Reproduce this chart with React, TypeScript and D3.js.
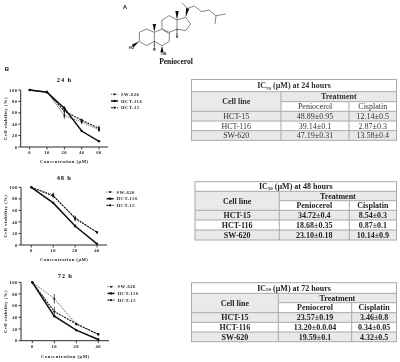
import React from 'react';
import * as d3 from 'd3';

const SERIF = '"Liberation Serif", serif';
const SANS = '"Liberation Sans", sans-serif';

// viability readings (%), one array per cell line
const doses24 = ['0', '10', '20', '40', '60'];
const sw620at24 = [100, 97, 55, 44, 30];
const hct116at24 = [100, 96, 68, 28, 10];
const hct15at24 = [100, 96, 63, 47, 33];
const sw620err24 = [0, 2, 6, 4, 4];
const hct116err24 = [0, 1, 4, 1, 1];
const hct15err24 = [0, 2, 7, 3, 5];

const doses48 = ['0', '10', '20', '40'];
const sw620at48 = [100, 87, 45, 22];
const hct116at48 = [100, 73, 33, 2];
const hct15at48 = [100, 85, 47, 22];
const sw620err48 = [0, 4, 4, 2];
const hct116err48 = [0, 2, 3, 1];
const hct15err48 = [0, 4, 4, 2];

const doses72 = ['0', '10', '20', '40'];
const sw620at72 = [100, 72, 28, 11];
const hct116at72 = [100, 42, 18, 2];
const hct15at72 = [100, 50, 29, 11];
const sw620err72 = [0, 8, 2, 2];
const hct116err72 = [0, 1, 1, 1];
const hct15err72 = [0, 8, 2, 2];

const legendNames = ['SW-620', 'HCT-116', 'HCT-15'];
const yTicks = [0, 20, 40, 60, 80, 100];

// IC table contents
const tableCellLines = ['HCT-15', 'HCT-116', 'SW-620'];
const peniocerol24 = ['48.89±0.95', '39.14±0.1', '47.19±0.31'];
const cisplatin24 = ['12.14±0.5', '2.87±0.3', '13.58±0.4'];
const peniocerol48 = ['34.72±0.4', '18.68±0.35', '23.10±0.18'];
const cisplatin48 = ['8.54±0.3', '0.87±0.1', '10.14±0.9'];
const peniocerol72 = ['23.57±0.19', '13.20±0.0.04', '19.59±0.1'];
const cisplatin72 = ['3.46±0.8', '0.34±0.05', '4.32±0.5'];

// structure drawing, in a 1200 wide sketch space
const skeleton: [number, number][][] = [
  [[418, 97], [440, 87], [463, 97], [463, 124], [440, 137], [418, 124], [418, 97]],
  [[463, 97], [486, 87], [508, 97], [508, 124], [486, 137], [463, 124]],
  [[486, 87], [486, 60], [508, 47], [531, 60], [531, 87], [508, 97]],
  [[489, 90], [506, 100]],
  [[531, 60], [557, 52], [572, 72], [557, 92], [531, 87]],
  [[563, 25], [545, 8]],
  [[563, 25], [583, 18], [605, 35], [627, 30], [648, 47], [677, 42]],
  [[648, 47], [645, 72]],
];
const wedges: [number, number, number, number][] = [
  [463, 97, 463, 72],
  [531, 60, 531, 33],
  [557, 52, 563, 25],
  [486, 137, 486, 157],
  [418, 124, 398, 138],
];
const hashes: [number, number, number, number][] = [
  [531, 87, 531, 106],
  [463, 124, 463, 146],
];
const atomLabels: [string, number, number][] = [
  ['H', 531, 114],
  ['H', 463, 154],
  ['OH', 491, 165],
  ['HO', 395, 146],
];
const sketch = d3.scaleLinear().domain([0, 1200]).range([0, 400]);

type PanelProps = {
  title: string;
  doses: string[];
  sw: number[];
  hct116: number[];
  hct15: number[];
  swErr: number[];
  hct116Err: number[];
  hct15Err: number[];
  axisX: number;
  axisEnd: number;
  firstX: number;
  lastX: number;
  top: number;
  bottom: number;
  titleY: number;
  labelY: number;
  legendX: number;
  legendY: number;
};

const LinePanel = (p: PanelProps) => {
  const x = d3.scalePoint<string>().domain(p.doses).range([p.firstX, p.lastX]);
  const y = d3.scaleLinear().domain([0, 100]).range([p.bottom, p.top]);
  const line = d3.line<number>().x((_, i) => x(p.doses[i]) as number).y(d => y(d));
  const series = [
    { name: legendNames[0], values: p.sw, err: p.swErr, width: 0.7, dash: '1.2,1', r: 1 },
    { name: legendNames[1], values: p.hct116, err: p.hct116Err, width: 1.5, dash: undefined, r: 1.2 },
    { name: legendNames[2], values: p.hct15, err: p.hct15Err, width: 1.1, dash: '2,1', r: 1.1 },
  ];
  const midY = (p.top + p.bottom) / 2;
  const tickText = { fontFamily: SERIF, fontSize: 4.6, fontWeight: 700, letterSpacing: 0.5, fill: '#222' };

  return (
    <g>
      <text x={(p.firstX + p.lastX) / 2} y={p.titleY} textAnchor="middle" fontFamily={SERIF} fontSize={6.5} fontWeight={700} letterSpacing={0.8} fill="#111">{p.title}</text>

      <line x1={p.axisX} x2={p.axisX} y1={p.top} y2={p.bottom} stroke="#111" strokeWidth={0.9} />
      <line x1={p.axisX} x2={p.axisEnd} y1={p.bottom} y2={p.bottom} stroke="#111" strokeWidth={0.9} />
      {yTicks.map(t => (
        <g key={t}>
          <line x1={p.axisX - 2.5} x2={p.axisX} y1={y(t)} y2={y(t)} stroke="#111" strokeWidth={0.8} />
          <text x={p.axisX - 3.2} y={y(t) + 1.6} textAnchor="end" {...tickText}>{t}</text>
        </g>
      ))}
      {p.doses.map(d => (
        <g key={d}>
          <line x1={x(d)} x2={x(d)} y1={p.bottom} y2={p.bottom + 2.5} stroke="#111" strokeWidth={0.8} />
          <text x={x(d)} y={p.bottom + 7.4} textAnchor="middle" {...tickText}>{d}</text>
        </g>
      ))}
      <text transform={`translate(7,${midY}) rotate(-90)`} textAnchor="middle" {...tickText}>Cell viability (%)</text>
      <text x={(p.firstX + p.lastX) / 2} y={p.labelY} textAnchor="middle" {...tickText}>Concentration (µM)</text>

      {series.map(s => (
        <g key={s.name}>
          <path d={line(s.values) as string} fill="none" stroke="#111" strokeWidth={s.width} strokeDasharray={s.dash} />
          {s.values.map((v, i) => (
            <g key={i}>
              {s.err[i] > 0 && (
                <line x1={x(p.doses[i])} x2={x(p.doses[i])} y1={y(v + s.err[i])} y2={y(v - s.err[i])} stroke="#111" strokeWidth={0.7} />
              )}
              <circle cx={x(p.doses[i])} cy={y(v)} r={s.r} fill="#111" />
            </g>
          ))}
        </g>
      ))}

      {series.map((s, i) => {
        const ly = p.legendY + i * 6.7;
        return (
          <g key={s.name}>
            <line x1={p.legendX} x2={p.legendX + 7} y1={ly} y2={ly} stroke="#111" strokeWidth={s.width} strokeDasharray={s.dash} />
            <circle cx={p.legendX + 3.5} cy={ly} r={s.r} fill="#111" />
            <text x={p.legendX + 10} y={ly + 1.6} {...tickText}>{s.name}</text>
          </g>
        );
      })}
    </g>
  );
};

type TableProps = {
  sub: string;
  subDrop: number;
  hours: string;
  peniocerol: string[];
  cisplatin: string[];
  bold: boolean;
  x0: number;
  x1: number;
  x2: number;
  x3: number;
  rows: number[];
};

const IcTable = ({ sub, subDrop, hours, peniocerol, cisplatin, bold, x0, x1, x2, x3, rows }: TableProps) => {
  const border = '#a8a8a8';
  const grey = '#e9e9e9';
  const weight = bold ? 700 : 400;
  const cellText = { fontFamily: SERIF, fontSize: 8, fill: bold ? '#222' : '#333', textAnchor: 'middle' as const };
  const midRow = (i: number) => (rows[i] + rows[i + 1]) / 2 + 2.7;

  return (
    <g>
      <rect x={x0} y={rows[0]} width={x3 - x0} height={rows[1] - rows[0]} fill="#fff" />
      <rect x={x0} y={rows[1]} width={x3 - x0} height={rows[2] - rows[1]} fill={grey} />
      <rect x={x0} y={rows[2]} width={x1 - x0} height={rows[3] - rows[2]} fill={grey} />
      <rect x={x1} y={rows[2]} width={x3 - x1} height={rows[3] - rows[2]} fill="#fff" />
      <rect x={x0} y={rows[3]} width={x3 - x0} height={rows[4] - rows[3]} fill={grey} />
      <rect x={x0} y={rows[4]} width={x3 - x0} height={rows[5] - rows[4]} fill="#fff" />
      <rect x={x0} y={rows[5]} width={x3 - x0} height={rows[6] - rows[5]} fill={grey} />

      <rect x={x0} y={rows[0]} width={x3 - x0} height={rows[6] - rows[0]} fill="none" stroke={border} />
      {[1, 3, 4, 5].map(i => (
        <line key={i} x1={x0} x2={x3} y1={rows[i]} y2={rows[i]} stroke={border} />
      ))}
      <line x1={x1} x2={x3} y1={rows[2]} y2={rows[2]} stroke={border} />
      <line x1={x1} x2={x1} y1={rows[1]} y2={rows[6]} stroke={border} />
      <line x1={x2} x2={x2} y1={rows[2]} y2={rows[6]} stroke={border} />

      <text x={(x0 + x3) / 2} y={midRow(0)} {...cellText} fontWeight={700}>
        IC<tspan fontSize={5} dy={subDrop}>{sub}</tspan>
        <tspan dy={-subDrop}> (µM) at {hours} hours</tspan>
      </text>
      <text x={(x1 + x3) / 2} y={midRow(1)} {...cellText} fontWeight={700}>Treatment</text>
      <text x={(x0 + x1) / 2} y={(rows[1] + rows[3]) / 2 + 2.7} {...cellText} fontWeight={700}>Cell line</text>
      <text x={(x1 + x2) / 2} y={midRow(2)} {...cellText} fontWeight={weight}>Peniocerol</text>
      <text x={(x2 + x3) / 2} y={midRow(2)} {...cellText} fontWeight={weight}>Cisplatin</text>
      {tableCellLines.map((name, i) => (
        <g key={name}>
          <text x={(x0 + x1) / 2} y={midRow(3 + i)} {...cellText} fontWeight={weight}>{name}</text>
          <text x={(x1 + x2) / 2} y={midRow(3 + i)} {...cellText} fontWeight={weight}>{peniocerol[i]}</text>
          <text x={(x2 + x3) / 2} y={midRow(3 + i)} {...cellText} fontWeight={weight}>{cisplatin[i]}</text>
        </g>
      ))}
    </g>
  );
};

const Molecule = () => {
  const bond = d3.line<[number, number]>().x(d => sketch(d[0])).y(d => sketch(d[1]));
  return (
    <g>
      {skeleton.map((pts, i) => (
        <path key={i} d={bond(pts) as string} fill="none" stroke="#333" strokeWidth={0.6} />
      ))}
      {wedges.map(([ax, ay, bx, by], i) => {
        const nx = by - ay;
        const ny = ax - bx;
        const len = Math.hypot(nx, ny);
        const w = 5 / len;
        const pts: [number, number][] = [[ax, ay], [bx + nx * w, by + ny * w], [bx - nx * w, by - ny * w], [ax, ay]];
        return <path key={i} d={bond(pts) as string} fill="#111" />;
      })}
      {hashes.map(([ax, ay, bx, by], i) => (
        <line key={i} x1={sketch(ax)} x2={sketch(bx)} y1={sketch(ay)} y2={sketch(by)} stroke="#111" strokeWidth={1.2} strokeDasharray="0.8,0.5" />
      ))}
      {atomLabels.map(([t, ax, ay]) => (
        <text key={t + ax} x={sketch(ax)} y={sketch(ay)} textAnchor="middle" fontFamily={SANS} fontSize={3.6} fontWeight={700} fill="#111">{t}</text>
      ))}
    </g>
  );
};

export default function App() {
  return (
    <svg width={400} height={362} viewBox="0 0 400 362" style={{ position: 'absolute', left: 0, top: 0, background: '#fff' }}>
      <defs>
        <filter id="soft" x="0" y="0" width="100%" height="100%">
          <feGaussianBlur stdDeviation={0.3} />
        </filter>
      </defs>
      <g filter="url(#soft)">
        <rect width={400} height={362} fill="#fff" />
        <text x={125} y={9} textAnchor="middle" fontFamily={SANS} fontSize={6} fontWeight={700} fill="#111">A</text>
        <text x={7} y={71} textAnchor="middle" fontFamily={SANS} fontSize={6} fontWeight={700} fill="#111">B</text>
        <Molecule />
        <text x={176} y={64} textAnchor="middle" fontFamily={SERIF} fontSize={7.5} fontWeight={700} fill="#111">Peniocerol</text>

        <LinePanel title="24 h" doses={doses24} sw={sw620at24} hct116={hct116at24} hct15={hct15at24}
          swErr={sw620err24} hct116Err={hct116err24} hct15Err={hct15err24}
          axisX={20.7} axisEnd={108} firstX={29.7} lastX={99} top={90} bottom={147}
          titleY={81.5} labelY={162.5} legendX={111} legendY={94.3} />
        <LinePanel title="48 h" doses={doses48} sw={sw620at48} hct116={hct116at48} hct15={hct15at48}
          swErr={sw620err48} hct116Err={hct116err48} hct15Err={hct15err48}
          axisX={21} axisEnd={107} firstX={31.3} lastX={97} top={187.3} bottom={245}
          titleY={180} labelY={260.5} legendX={106.5} legendY={192} />
        <LinePanel title="72 h" doses={doses72} sw={sw620at72} hct116={hct116at72} hct15={hct15at72}
          swErr={sw620err72} hct116Err={hct116err72} hct15Err={hct15err72}
          axisX={21} axisEnd={109} firstX={32.3} lastX={98.3} top={282.3} bottom={340.7}
          titleY={277.5} labelY={357.5} legendX={107.5} legendY={286.7} />

        <IcTable sub="70" subDrop={1.5} hours="24" peniocerol={peniocerol24} cisplatin={cisplatin24} bold={false}
          x0={191.5} x1={281} x2={349} x3={396.5} rows={[79.5, 91.7, 101.7, 111.3, 121, 130.7, 140.3]} />
        <IcTable sub="50" subDrop={0.5} hours="48" peniocerol={peniocerol48} cisplatin={cisplatin48} bold
          x0={195} x1={279.3} x2={349.3} x3={396.5} rows={[181.7, 191.3, 200.7, 210.3, 220, 230, 240]} />
        <IcTable sub="50" subDrop={0.5} hours="72" peniocerol={peniocerol72} cisplatin={cisplatin72} bold
          x0={191.5} x1={278.3} x2={351.7} x3={396.5} rows={[282.7, 293.3, 302.7, 312.7, 322.3, 332, 341.7]} />
      </g>
    </svg>
  );
}
